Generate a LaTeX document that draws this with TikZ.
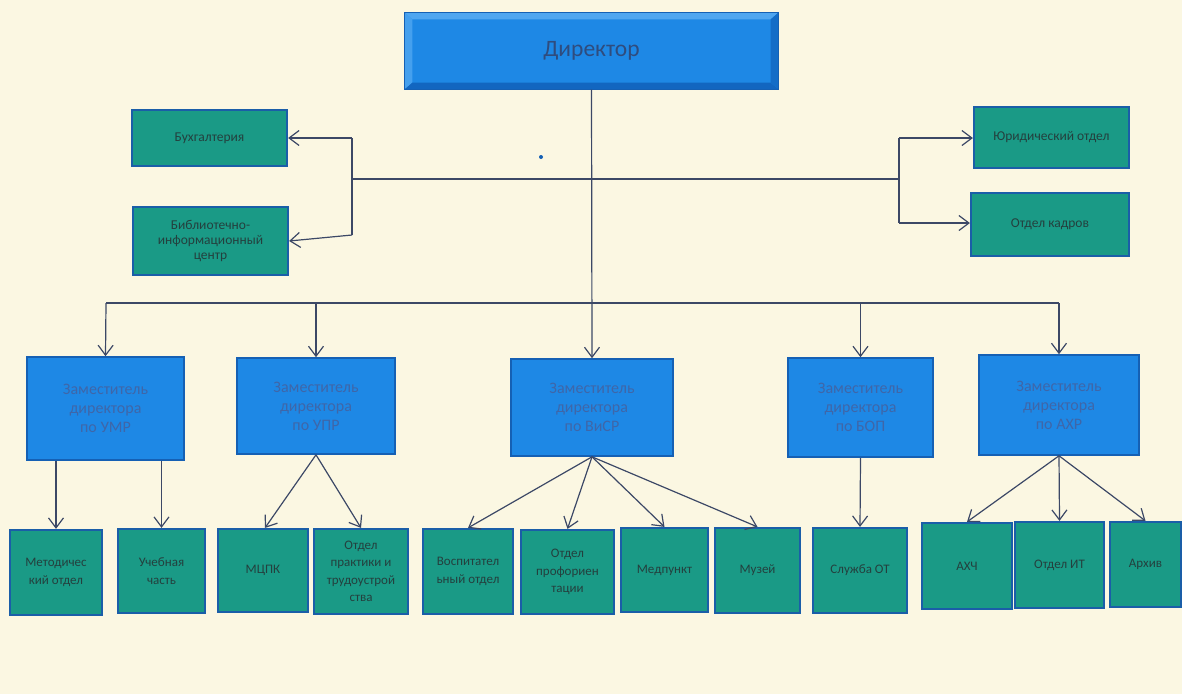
\documentclass[tikz,border=0pt]{standalone}
\usepackage{fontspec}
\setmainfont{Carlito}
\usetikzlibrary{arrows.meta,positioning}
\definecolor{bgc}{HTML}{FBF7E2}
\definecolor{bluefill}{HTML}{1E88E5}
\definecolor{blueedge}{HTML}{1560B4}
\definecolor{bluetext}{HTML}{3F66A8}
\definecolor{greenfill}{HTML}{1A9A86}
\definecolor{greenedge}{HTML}{1A5EA8}
\definecolor{greentext}{HTML}{24403E}
\definecolor{linec}{HTML}{3C4866}
\definecolor{bevlight}{HTML}{4FA6F0}
\definecolor{bevdark}{HTML}{1266C0}
\tikzset{
  bluebox/.style={draw=blueedge, line width=1.6pt, fill=bluefill, text=bluetext, align=center, inner sep=0pt, font=\fontsize{16}{19}\selectfont},
  greenbox/.style={draw=greenedge, line width=2.2pt, fill=greenfill, text=greentext, align=center, inner sep=0pt, font=\fontsize{13}{17.5}\selectfont},
  topgreen/.style={greenbox, font=\fontsize{13.5}{15}\selectfont},
  conn/.style={draw=linec, line width=1.2pt},
  arr/.style={conn, -{Straight Barb[length=10pt,width=15pt,line width=1.2pt]}},
}
\begin{document}
\begin{tikzpicture}[x=1pt,y=-1pt]
\fill[bgc] (0,0) rectangle (1182,694);
\useasboundingbox (0,0) rectangle (1182,694);

% Director with bevel
\node[draw=blueedge, line width=1.2pt, fill=bluefill, minimum width=373pt, minimum height=76pt, inner sep=0pt] (dir) at (591.5,51) {};
\fill[bevlight] (dir.north west) -- (dir.north east) -- ([xshift=-8pt,yshift=-7pt]dir.north east) -- ([xshift=8pt,yshift=-7pt]dir.north west) -- cycle;
\fill[bevlight!80!bluefill] (dir.north west) -- ([xshift=8pt,yshift=-7pt]dir.north west) -- ([xshift=8pt,yshift=7pt]dir.south west) -- (dir.south west) -- cycle;
\fill[bevdark] (dir.south west) -- ([xshift=8pt,yshift=7pt]dir.south west) -- ([xshift=-8pt,yshift=7pt]dir.south east) -- (dir.south east) -- cycle;
\fill[bevdark!80!bluefill] (dir.north east) -- ([xshift=-8pt,yshift=-7pt]dir.north east) -- ([xshift=-8pt,yshift=7pt]dir.south east) -- (dir.south east) -- cycle;
\draw[blueedge, line width=1.2pt] (dir.north west) rectangle (dir.south east);
\node[text=bluetext!75!black, font=\fontsize{23.5}{26}\selectfont] (dirtext) at (dir.center) {Директор};

% top side boxes
\node[topgreen, minimum width=155pt, minimum height=56pt] (buh) at (209.5,138) {Бухгалтерия};
\node[topgreen, minimum width=155pt, minimum height=68pt] (bic) at (210.5,241) {Библиотечно-\\информационный\\центр};
\node[topgreen, minimum width=155pt, minimum height=61pt] (jur) at (1051.5,137.5) {Юридический отдел};
\node[topgreen, minimum width=158pt, minimum height=63pt] (kad) at (1050,224.5) {Отдел кадров};

% deputies
\node[bluebox, minimum width=157pt, minimum height=103pt] (umr) at (105.5,408.5) {Заместитель\\директора\\по УМР};
\node[bluebox, minimum width=158pt, minimum height=96pt] (upr) at (316,406) {Заместитель\\директора\\по УПР};
\node[bluebox, minimum width=162pt, minimum height=97pt] (visr) at (592,407.5) {Заместитель\\директора\\по ВиСР};
\node[bluebox, minimum width=145pt, minimum height=99pt] (bop) at (860.5,407.5) {Заместитель\\директора\\по БОП};
\node[bluebox, minimum width=160pt, minimum height=100pt] (ahr) at (1059,405) {Заместитель\\директора\\по АХР};

% bottom row
\node[greenbox, minimum width=92pt, minimum height=85pt] (met) at (56,572.5) {Методичес\\кий отдел};
\node[greenbox, minimum width=87pt, minimum height=84pt] (uch) at (161.5,571) {Учебная\\часть};
\node[greenbox, minimum width=90pt, minimum height=83pt] (mcpk) at (263,570.5) {МЦПК};
\node[greenbox, minimum width=94pt, minimum height=85pt] (prak) at (361,571.5) {Отдел\\практики и\\трудоустрой\\ства};
\node[greenbox, minimum width=90pt, minimum height=85pt] (vos) at (468,571.5) {Воспитател\\ьный отдел};
\node[greenbox, minimum width=93pt, minimum height=84pt] (prof) at (567.5,572) {Отдел\\профориен\\тации};
\node[greenbox, minimum width=87pt, minimum height=84pt] (med) at (664.5,570) {Медпункт};
\node[greenbox, minimum width=85pt, minimum height=85pt] (muz) at (757.5,570.5) {Музей};
\node[greenbox, minimum width=94pt, minimum height=85pt] (ot) at (860,570.5) {Служба ОТ};
\node[greenbox, minimum width=90pt, minimum height=86pt] (ahch) at (967,566) {АХЧ};
\node[greenbox, minimum width=89pt, minimum height=86pt] (it) at (1059.5,565) {Отдел ИТ};
\node[greenbox, minimum width=71pt, minimum height=85pt] (arh) at (1145.5,564.5) {Архив};

% stray dot
\fill[blueedge] (541,157) circle (2pt);

% connector coordinates
\coordinate (bl) at (352,179);
\coordinate (br) at (899,179);
\coordinate (blt) at (352,138);
\coordinate (blb) at (352,235);
\coordinate (brt) at (899,138);
\coordinate (brb) at (899,223);
\coordinate (b2l) at (106,303);
\coordinate (b2r) at (1059,303);

% director trunk
\draw[arr] (dir.south) -- (visr.north);
% upper bus and brackets
\draw[conn] (bl) -- (br);
\draw[conn] (blt) -- (blb);
\draw[conn] (brt) -- (brb);
\draw[arr] (blt) -- (buh.east);
\draw[arr] (blb) -- (bic.east);
\draw[arr] (brt) -- (brt -| jur.west);
\draw[arr] (brb) -- (brb -| kad.west);
% lower bus
\draw[conn] (b2l) -- (b2r);
\draw[arr] (b2l) -- (umr.north);
\draw[arr] (b2l -| upr.north) -- (upr.north);
\draw[arr] (b2l -| bop.north) -- (bop.north);
\draw[arr] (b2r) -- (ahr.north);
% sub-units
\draw[arr] (umr.south -| met.north) -- (met.north);
\draw[arr] (umr.south -| uch.north) -- (uch.north);
\draw[arr] (upr.south) -- ([xshift=2pt]mcpk.north);
\draw[arr] (upr.south) -- (prak.north);
\draw[arr] (visr.south) -- (vos.north);
\draw[arr] (visr.south) -- (prof.north);
\draw[arr] (visr.south) -- (med.north);
\draw[arr] (visr.south) -- (muz.north);
\draw[arr] (bop.south) -- (ot.north);
\draw[arr] (ahr.south) -- (ahch.north);
\draw[arr] (ahr.south) -- (it.north);
\draw[arr] (ahr.south) -- (arh.north);
\end{tikzpicture}
\end{document}
